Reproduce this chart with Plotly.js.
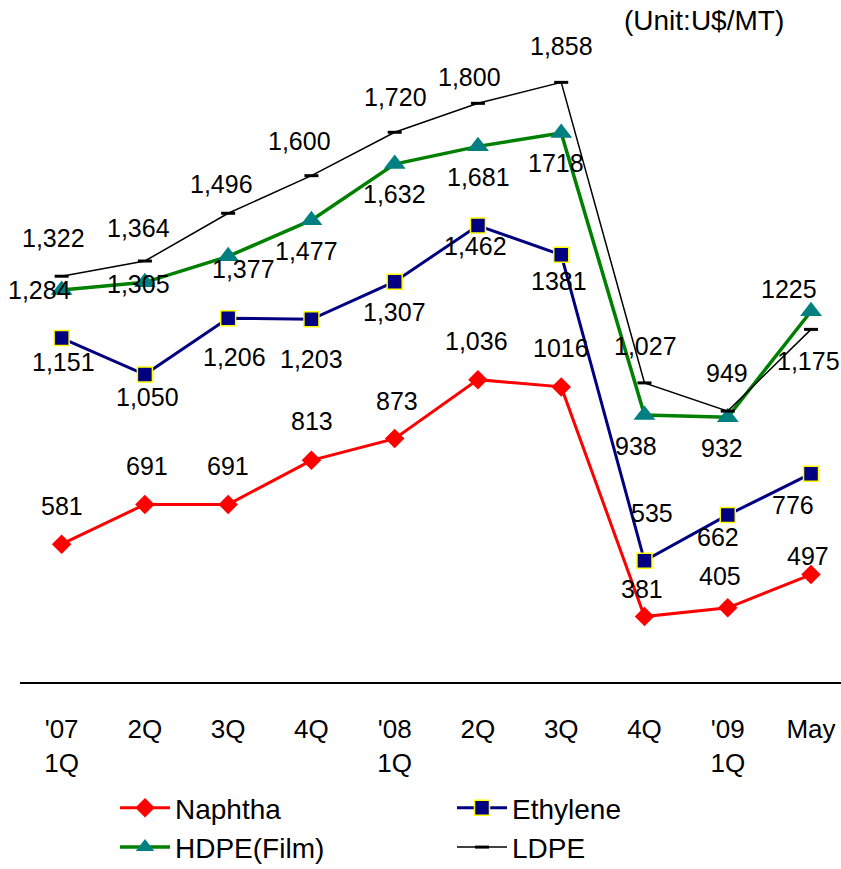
<!DOCTYPE html>
<html>
<head>
<meta charset="utf-8">
<script src="https://cdn.plot.ly/plotly-3.0.1.min.js"></script>
<style>html,body{margin:0;padding:0;background:#fff;}#chart{width:841px;height:869px;}</style>
</head>
<body>
<div id="chart"></div>
<script>
// ---- data ----
const categories = ["'07<br>1Q", "2Q", "3Q", "4Q", "'08<br>1Q", "2Q", "3Q", "4Q", "'09<br>1Q", "May"];
const naphtha  = [581, 691, 691, 813, 873, 1036, 1016, 381, 405, 497];
const ethylene = [1151, 1050, 1206, 1203, 1307, 1462, 1381, 535, 662, 776];
const hdpe     = [1284, 1305, 1377, 1477, 1632, 1681, 1718, 938, 932, 1225];
const ldpe     = [1322, 1364, 1496, 1600, 1720, 1800, 1858, 1027, 949, 1175];
const naphthaLabels  = ["581", "691", "691", "813", "873", "1,036", "1016", "381", "405", "497"];
const ethyleneLabels = ["1,151", "1,050", "1,206", "1,203", "1,307", "1,462", "1381", "535", "662", "776"];
const hdpeLabels     = ["1,284", "1,305", "1,377", "1,477", "1,632", "1,681", "1718", "938", "932", "1225"];
const ldpeLabels     = ["1,322", "1,364", "1,496", "1,600", "1,720", "1,800", "1,858", "1,027", "949", "1,175"];

// ---- label offsets (style, px: dx right, dy down) ----
const naphthaOff  = {dx: [0, 2, 0, 1, 2, -1, 0, -2, -8, -3], dy: [-38, -38, -38, -39, -38, -39, -39, -28, -32, -19]};
const ethyleneOff = {dx: [2, 3, 6, 0, 0, -2, -2, 8, -10, -18], dy: [24, 22, 39, 40, 30, 20, 26, -48, 22, 31]};
const hdpeOff     = {dx: [-22, -6, 15, -5, 0, 1, -5, -8, -6, -22], dy: [0, 2, 13, 31, 30, 31, 30, 31, 31, -22]};
const ldpeOff     = {dx: [-8, -6, -7, -12, 1, -8, 0, 1, -1, -3], dy: [-38, -33, -29, -35, -35, -26, -36, -37, -38, 32]};

const FONT = "Liberation Sans, Arial, sans-serif";
const xs = categories.map((_, i) => i);

const traces = [
  {name: "Naphtha", x: xs, y: naphtha, mode: "lines+markers",
   line: {color: "#FF0000", width: 3},
   marker: {symbol: "diamond", size: 15, color: "#FF0000"}},
  {name: "Ethylene", x: xs, y: ethylene, mode: "lines+markers",
   line: {color: "#000080", width: 3},
   marker: {symbol: "square", size: 15, color: "#000080", line: {color: "#FFFF00", width: 1.5}}},
  {name: "HDPE(Film)", x: xs, y: hdpe, mode: "lines+markers",
   line: {color: "#008000", width: 3.5},
   marker: {symbol: "triangle-up", size: 19, color: "#008080"}},
  {name: "LDPE", x: xs, y: ldpe, mode: "lines+markers",
   line: {color: "#000000", width: 1.5},
   marker: {symbol: "line-ew", size: 10, color: "#000000", line: {color: "#000000", width: 3}}}
];

function labelAnns(vals, labels, off) {
  return vals.map((v, i) => ({
    x: i, y: v, xref: "x", yref: "y", text: labels[i], showarrow: false,
    xanchor: "center", yanchor: "middle",
    xshift: off.dx[i], yshift: -off.dy[i],
    font: {family: FONT, size: 25, color: "#000"}
  }));
}

const annotations = [].concat(
  labelAnns(naphtha, naphthaLabels, naphthaOff),
  labelAnns(ethylene, ethyleneLabels, ethyleneOff),
  labelAnns(hdpe, hdpeLabels, hdpeOff),
  labelAnns(ldpe, ldpeLabels, ldpeOff),
  [{xref: "paper", yref: "paper", x: (786 - 20) / 821, y: 1 + 10 / 651, xanchor: "right", yanchor: "middle",
    text: "(Unit:U$/MT)", showarrow: false, font: {family: FONT, size: 28, color: "#000"}}]
);

const layout = {
  width: 841, height: 869,
  margin: {l: 20, r: 0, t: 31, b: 187},
  paper_bgcolor: "#fff", plot_bgcolor: "#fff",
  font: {family: FONT, size: 25, color: "#000"},
  xaxis: {
    range: [-0.5, 9.36], tickmode: "array", tickvals: xs, ticktext: categories,
    showgrid: false, zeroline: false, showline: true, linecolor: "#000", linewidth: 2,
    ticks: "", ticklabelstandoff: 23, tickfont: {family: FONT, size: 26, color: "#000"},
    fixedrange: true
  },
  yaxis: {range: [200, 2000], visible: false, showgrid: false, zeroline: false, fixedrange: true},
  showlegend: true,
  legend: {
    orientation: "h", xref: "container", yref: "container",
    x: 115 / 841, y: 1 - 783 / 869, xanchor: "left", yanchor: "top",
    entrywidth: 272, entrywidthmode: "pixels", itemwidth: 50,
    font: {family: FONT, size: 28, color: "#000"}, bgcolor: "rgba(0,0,0,0)"
  },
  annotations: annotations
};

Plotly.newPlot("chart", traces, layout, {displayModeBar: false, staticPlot: true});
</script>
</body>
</html>
